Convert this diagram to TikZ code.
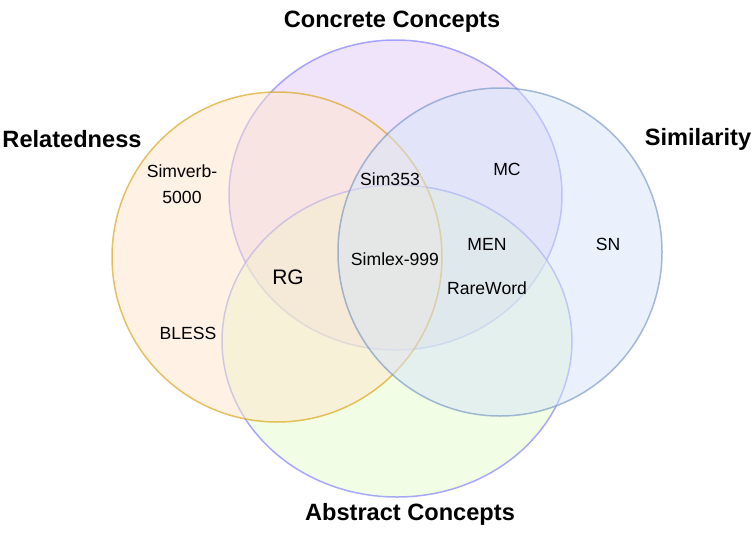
\documentclass[tikz,border=0pt]{standalone}
\usepackage{fontspec}
\setmainfont{Liberation Sans}
\usepackage{xcolor}
\usetikzlibrary{positioning}

\definecolor{relfill}{HTML}{FFE5CC}
\definecolor{relline}{HTML}{D79B00}
\definecolor{confill}{HTML}{E1C9F7}
\definecolor{setline}{HTML}{7070FF}
\definecolor{simfill}{HTML}{D6E4FA}
\definecolor{simline}{HTML}{6C8EBF}
\definecolor{absfill}{HTML}{E3FBC9}

\begin{document}
\begin{tikzpicture}[
    x=1pt, y=-1pt,
    set/.style={fill opacity=0.5, draw opacity=0.6, line width=1.5pt},
    title/.style={font=\fontsize{23.6}{28}\selectfont\bfseries, text=black, inner sep=0pt},
    lbl/.style={font=\fontsize{17.6}{26}\selectfont, text=black, inner sep=0pt, align=center},
    big/.style={font=\fontsize{21}{25}\selectfont, text=black, inner sep=0pt}
]
    \useasboundingbox (0,0) rectangle (754,533);

    % the four sets
    \draw[set, fill=confill, draw=setline] (395.5,195) ellipse [x radius=166.5, y radius=155];
    \draw[set, fill=absfill, draw=setline] (397,341) ellipse [x radius=175, y radius=156];
    \draw[set, fill=relfill, draw=relline] (277,257) ellipse [x radius=165, y radius=165];
    \draw[set, fill=simfill, draw=simline] (500,252) ellipse [x radius=162, y radius=164];

    % set names
    \node[title] (concrete) at (392,22)  {Concrete Concepts};
    \node[title] (related)  at (72,139)  {Relatedness};
    \node[title] (similar)  at (698,139) {Similarity};
    \node[title] (abstract) at (410,514) {Abstract Concepts};

    % datasets
    \node[lbl] (simverb) at (182,184) {Simverb-\\5000};
    \node[lbl] (bless)   at (188,333) {BLESS};
    \node[big] (rg)      at (288,277) {RG};
    \node[lbl] (sim353)  at (390,179) {Sim353};
    \node[lbl] (mc)      at (507,169) {MC};
    \node[lbl] (men)     at (487,244) {MEN};
    \node[lbl] (simlex)  at (395,259) {Simlex-999};
    \node[lbl] (rare)    at (487,288) {RareWord};
    \node[lbl] (sn)      at (608,244) {SN};
\end{tikzpicture}
\end{document}
